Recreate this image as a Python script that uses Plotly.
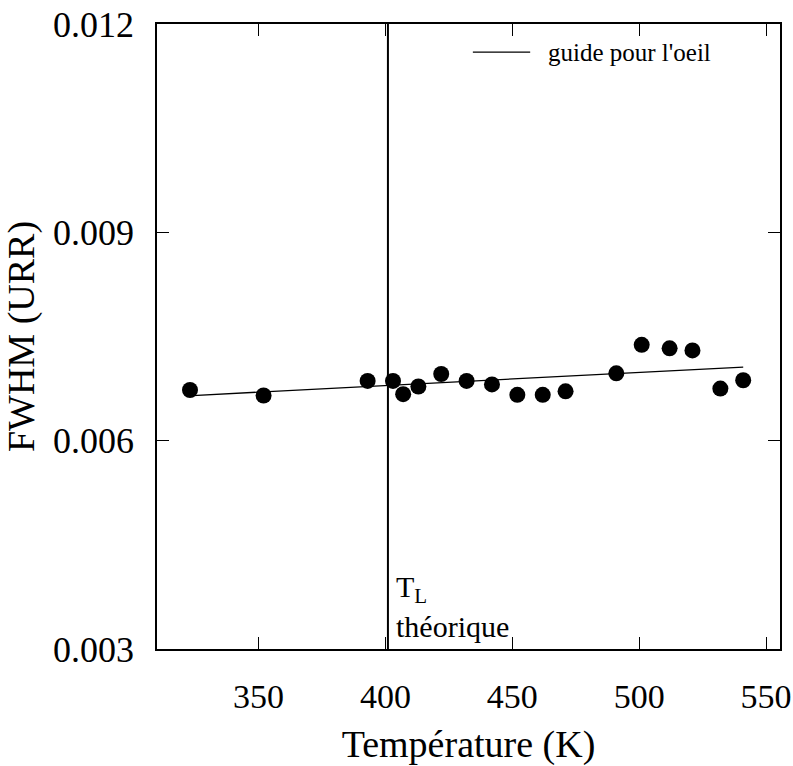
import plotly.graph_objects as go

# Data
temperature = [323, 352, 393, 403, 407, 413, 422, 432, 442, 452, 462, 471, 491, 501, 512, 521, 532, 541]
fwhm = [0.00673, 0.00665, 0.00686, 0.00686, 0.00667, 0.00678, 0.00696, 0.00686, 0.00681,
        0.00666, 0.00666, 0.00671, 0.00697, 0.00738, 0.00733, 0.00730, 0.00675, 0.00687]
guide_x = [324, 541]
guide_y = [0.00665, 0.00706]
tl_x = [401, 401]
tl_y = [0.003, 0.012]
x_ticks = [350, 400, 450, 500, 550]
y_ticks = [0.003, 0.006, 0.009, 0.012]
y_ticktext = ["0.003", "0.006", "0.009", "0.012"]
legend_label = "guide pour l'oeil"

FONT = "Liberation Serif, Times New Roman, serif"

fig = go.Figure()
fig.add_trace(go.Scatter(x=tl_x, y=tl_y, mode="lines",
                         line=dict(color="black", width=2), showlegend=False, hoverinfo="skip"))
fig.add_trace(go.Scatter(x=guide_x, y=guide_y, mode="lines",
                         line=dict(color="black", width=1.3), name=legend_label, showlegend=False))
fig.add_trace(go.Scatter(x=temperature, y=fwhm, mode="markers",
                         marker=dict(color="black", size=16), showlegend=False))

# legend sample (drawn manually to match the long line sample of the original)
fig.add_shape(type="line", xref="paper", yref="paper", x0=0.507, x1=0.599, y0=0.955, y1=0.955,
              line=dict(color="black", width=1.3))
fig.add_annotation(x=0.625, y=0.955, xref="paper", yref="paper", text=legend_label,
                   showarrow=False, xanchor="left", yanchor="middle",
                   font=dict(family=FONT, size=25, color="black"))

fig.add_annotation(x=401, y=0.00386, xref="x", yref="y", text="T<sub>L</sub>",
                   showarrow=False, xanchor="left", xshift=6,
                   font=dict(family=FONT, size=30, color="black"))
fig.add_annotation(x=401, y=0.00333, xref="x", yref="y", text="théorique",
                   showarrow=False, xanchor="left", xshift=6,
                   font=dict(family=FONT, size=30, color="black"))

axis_common = dict(showline=True, linecolor="black", linewidth=1.5, mirror="ticks",
                   ticks="inside", ticklen=12, tickwidth=1.2, tickcolor="black",
                   showgrid=False, zeroline=False, automargin=False)

fig.update_xaxes(range=[310, 555.5], tickvals=x_ticks,
                 tickfont=dict(family=FONT, size=34, color="black"),
                 title=dict(text="Température (K)", font=dict(family=FONT, size=38, color="black"),
                            standoff=22),
                 ticklabelstandoff=16, **axis_common)
fig.update_yaxes(range=[0.003, 0.012], tickvals=y_ticks, ticktext=y_ticktext,
                 tickfont=dict(family=FONT, size=36, color="black"),
                 title=dict(text="FWHM (URR)", font=dict(family=FONT, size=38, color="black"),
                            standoff=12),
                 ticklabelstandoff=14, **axis_common)

fig.update_layout(
    width=793, height=766,
    margin=dict(l=157, r=13, t=24, b=117),
    plot_bgcolor="white", paper_bgcolor="white",
    showlegend=False,
)

fig.write_html("out.html")
